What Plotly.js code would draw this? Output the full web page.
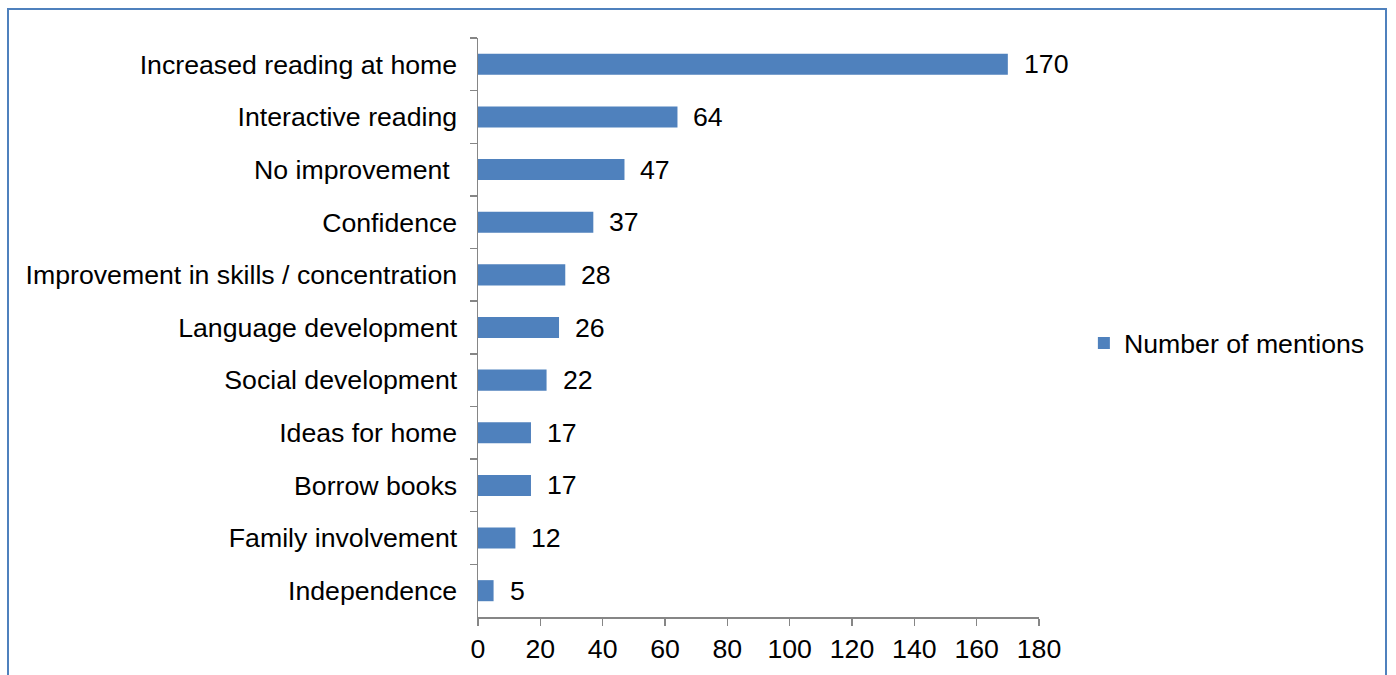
<!DOCTYPE html>
<html>
<head>
<meta charset="utf-8">
<script src="https://cdn.plot.ly/plotly-3.0.1.min.js"></script>
<style>
html,body{margin:0;padding:0;background:#fff;overflow:hidden;width:1396px;height:675px;}
#frame{position:absolute;left:7px;top:8px;width:1380px;height:720px;border:2px solid #4F81BD;box-sizing:border-box;pointer-events:none;z-index:2;}
#chart{position:absolute;left:0;top:0;width:1396px;height:675px;z-index:1;}
</style>
</head>
<body>
<div id="frame"></div>
<div id="chart"></div>
<script>
const categories = [
  "Increased reading at home",
  "Interactive reading",
  "No improvement\u00a0",
  "Confidence",
  "Improvement in skills / concentration",
  "Language development",
  "Social development",
  "Ideas for home",
  "Borrow books",
  "Family involvement",
  "Independence"
];
const mentions = [170, 64, 47, 37, 28, 26, 22, 17, 17, 12, 5];
const xTicks = [0, 20, 40, 60, 80, 100, 120, 140, 160, 180];
const seriesName = "Number of mentions";

const font = {family: "Liberation Sans, Arial, sans-serif", size: 26.7, color: "#000"};

const trace = {
  type: "bar",
  orientation: "h",
  y: categories,
  x: mentions,
  name: seriesName,
  marker: {color: "#4F81BD"},
  showlegend: true,
  hoverinfo: "x+y"
};

const annotations = categories.map((c, i) => ({
  x: mentions[i], y: c, xref: "x", yref: "y",
  text: String(mentions[i]), showarrow: false,
  xanchor: "left", yanchor: "middle", xshift: 14, yshift: 0,
  font: font
}));

const layout = {
  width: 1396, height: 675,
  margin: {l: 478, r: 357, t: 38, b: 58},
  paper_bgcolor: "rgba(0,0,0,0)",
  plot_bgcolor: "rgba(0,0,0,0)",
  font: font,
  bargap: 0.6,
  showlegend: true,
  legend: {x: 1.08, y: 0.473, xanchor: "left", yanchor: "middle", font: font, bgcolor: "rgba(0,0,0,0)", itemwidth: 30},
  xaxis: {
    range: [0, 180], tickvals: xTicks, ticktext: xTicks.map(String),
    showgrid: false, zeroline: false, showline: true, linecolor: "#868686", linewidth: 1.5,
    ticks: "outside", ticklen: 7, tickcolor: "#868686", tickwidth: 1.5,
    tickfont: font, fixedrange: true
  },
  yaxis: {
    type: "category", autorange: "reversed",
    showgrid: false, zeroline: false, showline: true, linecolor: "#868686", linewidth: 1.5,
    ticks: "outside", ticklen: 7, tickcolor: "#868686", tickwidth: 1.5,
    tickson: "boundaries", ticklabelstandoff: 14,
    tickfont: font, fixedrange: true
  },
  annotations: annotations
};

Plotly.newPlot("chart", [trace], layout, {displayModeBar: false, staticPlot: true});
</script>
</body>
</html>
